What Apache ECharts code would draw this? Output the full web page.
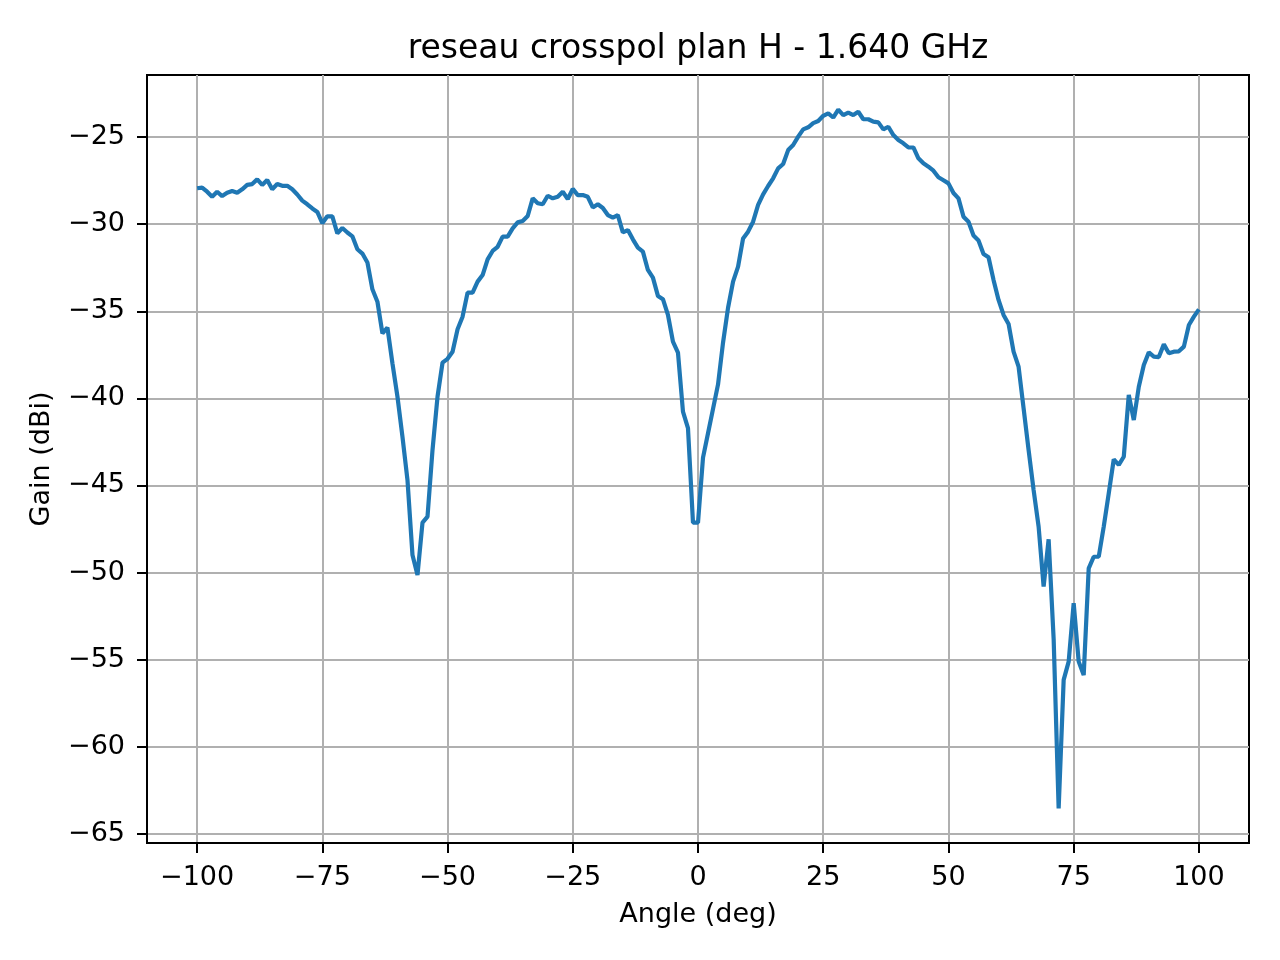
<!DOCTYPE html>
<html>
<head>
	<meta charset="utf-8">
	<title>reseau crosspol plan H - 1.640 GHz</title>
	<style type="text/css">
		body{
			margin: 0px;
		}
		.chart{
			width: 1280px;
			height: 960px;
		}
	</style>
	<script type="text/javascript" src="https://cdn.jsdelivr.net/npm/echarts@6/dist/echarts.min.js"></script>
</head>
<body>
	<div id="chart" class="chart"></div>
	<script type="text/javascript">
		// angle (deg), one sample per degree
		var angles = [
			-100, -99, -98, -97, -96, -95, -94, -93, -92, -91, -90, -89, -88, -87, -86, -85, -84, -83, -82, -81,
			-80, -79, -78, -77, -76, -75, -74, -73, -72, -71, -70, -69, -68, -67, -66, -65, -64, -63, -62, -61,
			-60, -59, -58, -57, -56, -55, -54, -53, -52, -51, -50, -49, -48, -47, -46, -45, -44, -43, -42, -41,
			-40, -39, -38, -37, -36, -35, -34, -33, -32, -31, -30, -29, -28, -27, -26, -25, -24, -23, -22, -21,
			-20, -19, -18, -17, -16, -15, -14, -13, -12, -11, -10, -9, -8, -7, -6, -5, -4, -3, -2, -1,
			0, 1, 2, 3, 4, 5, 6, 7, 8, 9, 10, 11, 12, 13, 14, 15, 16, 17, 18, 19,
			20, 21, 22, 23, 24, 25, 26, 27, 28, 29, 30, 31, 32, 33, 34, 35, 36, 37, 38, 39,
			40, 41, 42, 43, 44, 45, 46, 47, 48, 49, 50, 51, 52, 53, 54, 55, 56, 57, 58, 59,
			60, 61, 62, 63, 64, 65, 66, 67, 68, 69, 70, 71, 72, 73, 74, 75, 76, 77, 78, 79,
			80, 81, 82, 83, 84, 85, 86, 87, 88, 89, 90, 91, 92, 93, 94, 95, 96, 97, 98, 99,
			100
		];
		// gain (dBi)
		var gain = [
			-27.94, -27.90, -28.14, -28.43, -28.14, -28.39, -28.20, -28.10, -28.20, -28.00,
			-27.75, -27.70, -27.43, -27.75, -27.47, -28.00, -27.70, -27.80, -27.80, -28.00,
			-28.30, -28.65, -28.86, -29.10, -29.30, -29.95, -29.55, -29.55, -30.53, -30.22,
			-30.48, -30.70, -31.44, -31.69, -32.20, -33.74, -34.45, -36.27, -35.94, -37.99,
			-39.90, -42.20, -44.68, -48.99, -50.14, -47.13, -46.79, -42.96, -39.90, -37.95,
			-37.73, -37.32, -36.03, -35.31, -33.93, -33.93, -33.30, -32.92, -32.02, -31.54,
			-31.30, -30.72, -30.72, -30.24, -29.90, -29.82, -29.53, -28.52, -28.80, -28.86,
			-28.37, -28.52, -28.43, -28.14, -28.56, -27.98, -28.33, -28.33, -28.43, -29.04,
			-28.86, -29.07, -29.48, -29.62, -29.48, -30.47, -30.34, -30.87, -31.35, -31.58,
			-32.63, -33.07, -34.12, -34.31, -35.21, -36.74, -37.37, -40.76, -41.71, -47.13,
			-47.13, -43.40, -42.00, -40.60, -39.20, -36.80, -34.80, -33.30, -32.44, -30.82,
			-30.43, -29.86, -28.90, -28.29, -27.81, -27.37, -26.80, -26.55, -25.75, -25.46,
			-24.98, -24.56, -24.44, -24.20, -24.08, -23.78, -23.64, -23.88, -23.43, -23.74,
			-23.60, -23.74, -23.55, -23.98, -23.98, -24.12, -24.16, -24.56, -24.41, -24.89,
			-25.17, -25.36, -25.59, -25.60, -26.22, -26.51, -26.70, -26.93, -27.31, -27.48,
			-27.66, -28.21, -28.52, -29.57, -29.86, -30.65, -30.94, -31.71, -31.90, -33.20,
			-34.35, -35.21, -35.73, -37.32, -38.18, -40.57, -42.96, -45.26, -47.36, -50.80,
			-48.09, -53.80, -63.53, -56.16, -55.11, -51.76, -55.11, -55.88, -49.76, -49.09,
			-49.09, -47.36, -45.45, -43.50, -43.82, -43.35, -39.80, -41.24, -39.33, -38.08,
			-37.36, -37.60, -37.63, -36.90, -37.41, -37.32, -37.30, -37.03, -35.79, -35.31,
			-34.89
		];
		var xTicks = [-100, -75, -50, -25, 0, 25, 50, 75, 100];
		var yTicks = [-65, -60, -55, -50, -45, -40, -35, -30, -25];

		function minusSign(v){
			return String(v).replace('-', '\u2212');
		}

		window.onload = function(){
			var chart = echarts.init(document.getElementById('chart'));
			var font = 'DejaVu Sans';
			var points = angles.map(function(a, i){
				return [a, gain[i]];
			});
			chart.setOption({
				animation: false,
				backgroundColor: '#ffffff',
				title: {
					text: 'reseau crosspol plan H - 1.640 GHz',
					left: 698,
					top: 33,
					padding: 0,
					textAlign: 'center',
					textStyle: {
						color: '#000',
						fontFamily: font,
						fontWeight: 'normal',
						fontSize: 33
					}
				},
				grid: {
					left: 147,
					right: 31,
					top: 75,
					bottom: 117,
					show: true,
					borderColor: '#000',
					borderWidth: 2,
					containLabel: false
				},
				xAxis: {
					type: 'value',
					min: -110,
					max: 110,
					name: 'Angle (deg)',
					nameLocation: 'middle',
					nameGap: 58,
					nameTextStyle: {
						color: '#000',
						fontFamily: font,
						fontSize: 27
					},
					axisLine: {
						show: true,
						onZero: false,
						lineStyle: {color: '#000', width: 2}
					},
					axisTick: {
						show: true,
						inside: false,
						length: 10,
						customValues: xTicks,
						lineStyle: {color: '#000', width: 2}
					},
					axisLabel: {
						customValues: xTicks,
						margin: 21,
						color: '#000',
						fontFamily: font,
						fontSize: 27,
						formatter: minusSign
					},
					splitLine: {
						show: true,
						lineStyle: {color: '#b0b0b0', width: 2}
					}
				},
				yAxis: {
					type: 'value',
					min: -65.52,
					max: -21.44,
					name: 'Gain (dBi)',
					nameLocation: 'middle',
					nameRotate: 90,
					nameGap: 92,
					nameTextStyle: {
						color: '#000',
						fontFamily: font,
						fontSize: 27
					},
					axisLine: {
						show: true,
						onZero: false,
						lineStyle: {color: '#000', width: 2}
					},
					axisTick: {
						show: true,
						inside: false,
						length: 10,
						customValues: yTicks,
						lineStyle: {color: '#000', width: 2}
					},
					axisLabel: {
						customValues: yTicks,
						margin: 22,
						color: '#000',
						fontFamily: font,
						fontSize: 27,
						formatter: minusSign
					},
					splitLine: {
						show: true,
						lineStyle: {color: '#b0b0b0', width: 2}
					}
				},
				series: [{
					name: 'gain',
					type: 'line',
					data: points,
					showSymbol: false,
					symbol: 'none',
					lineStyle: {
						color: '#1f77b4',
						width: 4.2
					}
				}]
			});
		};
	</script>
</body>
</html>
